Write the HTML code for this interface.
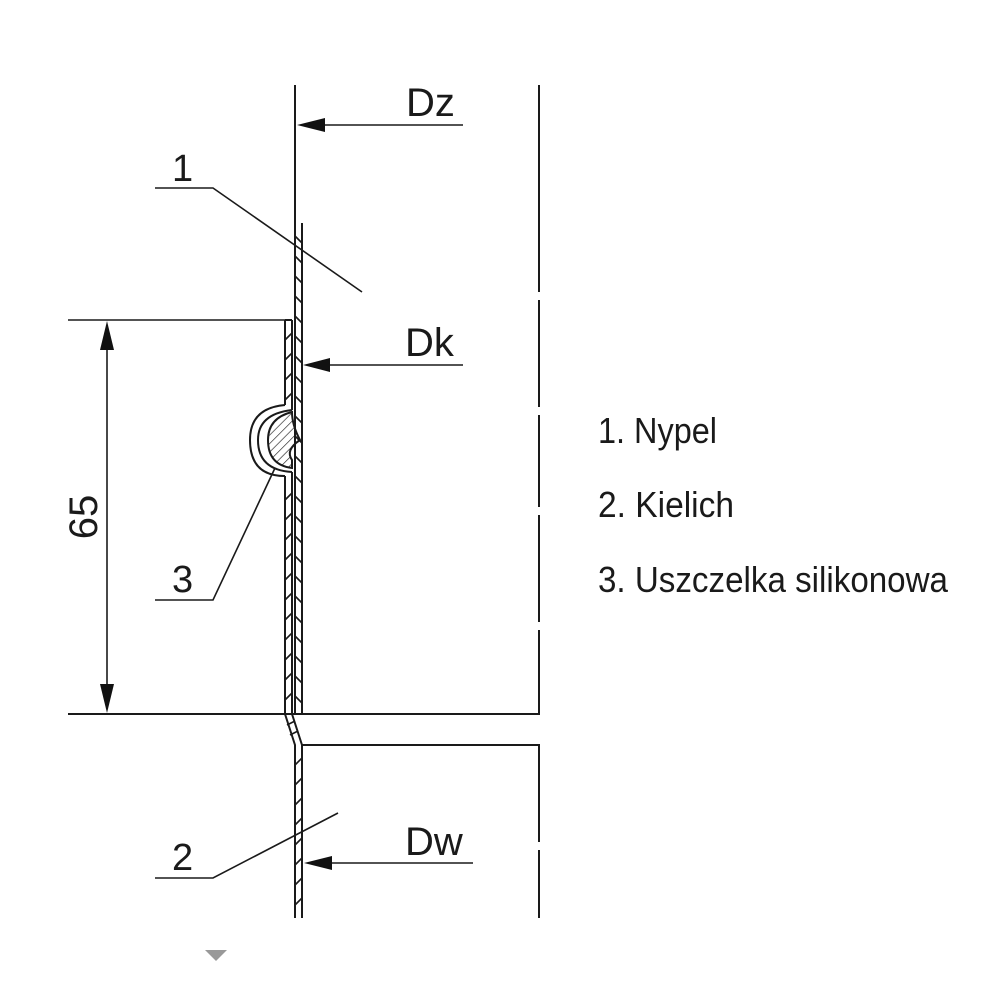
<!DOCTYPE html>
<html><head><meta charset="utf-8"><style>
html,body{margin:0;padding:0;background:#fff}
svg{display:block}
text{font-family:"Liberation Sans","DejaVu Sans",sans-serif;fill:#1a1a1a}
</style></head><body>
<svg width="1000" height="1000" viewBox="0 0 1000 1000" xmlns="http://www.w3.org/2000/svg">
<defs>
<pattern id="h" width="6" height="6" patternUnits="userSpaceOnUse" patternTransform="rotate(45)">
<line x1="0" y1="0" x2="0" y2="6" stroke="#222" stroke-width="1.3"/>
</pattern>
</defs>
<g stroke="#1a1a1a" stroke-width="2" fill="none">
<path d="M539 85V292 M539 300V407 M539 415V507 M539 515V622 M539 630V714 M539 745V842 M539 850V918"/>
<line x1="295" y1="85" x2="295" y2="714"/>
<line x1="302" y1="223" x2="302" y2="714"/>
<g stroke-width="1.6">
<path d="M295 236l7 7 M295 256l7 7 M295 276l7 7 M295 296l7 7 M295 316l7 7 M295 336l7 7 M295 356l7 7 M295 376l7 7 M295 396l7 7 M295 416l7 7 M295 436l7 7 M295 456l7 7 M295 476l7 7 M295 496l7 7 M295 516l7 7 M295 536l7 7 M295 556l7 7 M295 576l7 7 M295 596l7 7 M295 616l7 7 M295 636l7 7 M295 656l7 7 M295 676l7 7 M295 696l7 7"/>
</g>
<path d="M285 320V405 M285 476V714 L295 745V918"/>
<path d="M292 320V410 M292 472V714 L302 745V918"/>
<line x1="285" y1="320" x2="292" y2="320"/>
<g stroke-width="1.6">
<path d="M285 340l7-7 M285 360l7-7 M285 380l7-7 M285 400l7-7 M285 500l7-7 M285 520l7-7 M285 540l7-7 M285 560l7-7 M285 580l7-7 M285 600l7-7 M285 620l7-7 M285 640l7-7 M285 660l7-7 M285 680l7-7 M285 700l7-7"/>
<path d="M287 725l8-4 M290 735l8-4 M295 765l7-7 M295 785l7-7 M295 805l7-7 M295 825l7-7 M295 845l7-7 M295 865l7-7 M295 885l7-7 M295 905l7-7"/>
</g>
<path d="M285 405 Q250 408 250 440 Q250 476 285 476"/>
<path d="M292 410 Q258 414 258 440 Q258 470 292 472"/>
<path d="M292 412 Q268 418 268 440 Q268 465 292 468 L292 460 Q285 450 300 440 Q292 425 292 412Z" fill="url(#h)"/>
<line x1="68" y1="714" x2="540" y2="714"/>
<line x1="302" y1="745" x2="540" y2="745"/>
<line x1="68" y1="320" x2="285" y2="320" stroke-width="1.6"/>
<line x1="107" y1="330" x2="107" y2="705" stroke-width="1.6"/>
<line x1="320" y1="125" x2="463" y2="125" stroke-width="1.6"/>
<line x1="325" y1="365" x2="463" y2="365" stroke-width="1.6"/>
<line x1="325" y1="863" x2="473" y2="863" stroke-width="1.6"/>
<path d="M155 188H213L362 292" stroke-width="1.6"/>
<path d="M155 600H213L275 468" stroke-width="1.6"/>
<path d="M155 878H213L338 813" stroke-width="1.6"/>
</g>
<g fill="#111">
<polygon points="297,125 325,118 325,132"/>
<polygon points="303,365 330,358 330,372"/>
<polygon points="304,863 332,856 332,870"/>
<polygon points="107,321 100,350 114,350"/>
<polygon points="107,713 100,684 114,684"/>
<polygon points="205,950 227,950 216,961" fill="#999"/>
</g>
<text x="406" y="116" font-size="40">Dz</text>
<text x="405" y="356" font-size="40">Dk</text>
<text x="405" y="855" font-size="40">Dw</text>
<text x="172" y="181" font-size="38">1</text>
<text x="172" y="592" font-size="38">3</text>
<text x="172" y="870" font-size="38">2</text>
<text x="97" y="517" font-size="40" text-anchor="middle" transform="rotate(-90 97 517)">65</text>
<text x="598" y="443" font-size="36" textLength="119" lengthAdjust="spacingAndGlyphs">1. Nypel</text>
<text x="598" y="517" font-size="36" textLength="136" lengthAdjust="spacingAndGlyphs">2. Kielich</text>
<text x="598" y="592" font-size="36" textLength="350" lengthAdjust="spacingAndGlyphs">3. Uszczelka silikonowa</text>
</svg>
</body></html>
